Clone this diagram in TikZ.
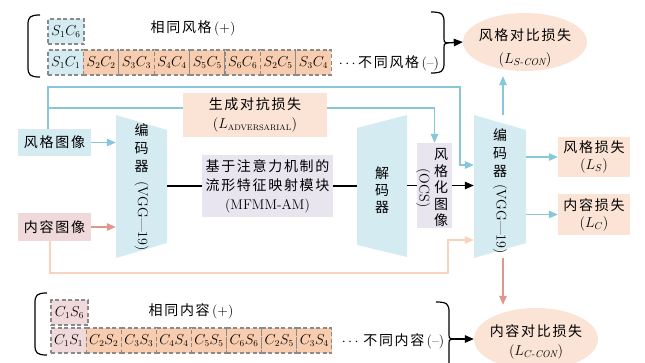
\documentclass[tikz,border=0pt]{standalone}
\usepackage{amsmath}
\usepackage{fontspec}
\newfontfamily\cjk[LetterSpace=12]{Noto Sans CJK SC}
\usetikzlibrary{arrows.meta,shapes.geometric}
\definecolor{cblue}{HTML}{D5EBF2}
\definecolor{cpeach}{HTML}{FBE4D5}
\definecolor{corange}{HTML}{F8CDAF}
\definecolor{cpink}{HTML}{EFD9DA}
\definecolor{clav}{HTML}{E8E5EF}
\definecolor{lblue}{HTML}{86C7D9}
\definecolor{lsalmon}{HTML}{DF968E}
\definecolor{lpeach}{HTML}{F9D3BB}
\definecolor{dgray}{HTML}{8A8A8A}
\begin{document}
\begin{tikzpicture}[x=1pt,y=-1pt,
  every node/.style={inner sep=0pt, font=\fontsize{14}{17}\selectfont},
  pair/.style={draw=dgray, dash pattern=on 4pt off 2.5pt, line width=1.2pt, minimum height=25pt, font=\fontsize{13.5}{13.5}\selectfont},
  conn/.style={line width=1.3pt},
  tip/.style={-{Triangle[length=9pt,width=7.5pt]}},
  brc/.style={line width=1.2pt, black},
]
\useasboundingbox (0,0) rectangle (645,362);
\clip (0,0) rectangle (645,362);

% ---------- top contrast group ----------
\node[pair, fill=cblue, minimum width=36pt] (ts) at (66,31.5) {$S_1C_6$};
\node (tsame) at (193,28) {{\cjk 相同风格}\,(+)};
\node[pair, fill=cblue, minimum width=35.4pt] (t0) at (65.7,62.5) {$S_1C_1$};
\foreach \a/\b [count=\i from 1] in {2/2,3/3,4/4,5/5,6/6,2/5,3/4}{
  \node[pair, fill=corange, minimum width=35.4pt] (t\i) at (65.7+35.4*\i,62.5) {$S_{\a}C_{\b}$};
}
\node (tdiff) at (389,63) {$\cdots${\cjk 不同风格}\,(--)};
\draw[brc] (40,15) .. controls (30,15) and (28,17) .. (28,25) -- (28,67) .. controls (28,75) and (30,77) .. (40,77);
\draw[brc] (431,12) .. controls (442,12) and (444,14) .. (444,22) -- (444,39) .. controls (444,42) .. (447,43) .. controls (444,44) .. (444,47) -- (444,63) .. controls (444,71) and (442,73) .. (431,73);
\coordinate (rbt) at (446,43);

\node[ellipse, fill=cpeach, minimum width=124pt, minimum height=58pt] (sell) at (525,42) {};
\node[align=center] (selltxt) at (525,48) {{\cjk 风格对比损失}\\[6pt]$(L_{S\text{-}\mathit{CON}})$};
\draw[conn, tip] (rbt) -- (sell.west);

% ---------- bottom contrast group ----------
\node[pair, fill=cpink, minimum width=37pt] (bs) at (69.5,312.5) {$C_1S_6$};
\node (bsame) at (191,311) {{\cjk 相同内容}\,(+)};
\node[pair, fill=cpink, minimum width=35.1pt] (b0) at (68.6,340.5) {$C_1S_1$};
\foreach \a/\b [count=\i from 1] in {2/2,3/3,4/4,5/5,6/6,2/5,3/4}{
  \node[pair, fill=corange, minimum width=35.1pt] (b\i) at (68.6+35.1*\i,340.5) {$C_{\a}S_{\b}$};
}
\node (bdiff) at (393,341) {$\cdots$\,{\cjk 不同内容}\,(--)};
\draw[brc] (47,293) .. controls (37,293) and (35,295) .. (35,303) -- (35,345) .. controls (35,353) and (37,355) .. (47,355);
\draw[brc] (436,302) .. controls (447,302) and (449,304) .. (449,312) -- (449,335) .. controls (449,338) .. (452,339) .. controls (449,340) .. (449,343) -- (449,366) .. controls (449,374) and (447,376) .. (436,376);
\coordinate (rbb) at (451,339);

\node[ellipse, fill=cpeach, minimum width=124pt, minimum height=62pt] (cell) at (536,339) {};
\node[align=center] (celltxt) at (536,342) {{\cjk 内容对比损失}\\[2pt]$(L_{C\text{-}\mathit{CON}})$};
\draw[conn, tip] (rbb) -- (cell.west);

% ---------- main pipeline ----------
\node[fill=cblue, minimum width=73pt, minimum height=27pt] (sty) at (54.5,142.5) {\cjk 风格图像};
\node[fill=cpink, minimum width=73pt, minimum height=28pt] (cont) at (54.5,227) {\cjk 内容图像};

% encoder 1
\fill[cblue] (116,115) -- (167,130) -- (167,243) -- (116,258) -- cycle;
\node[minimum width=51pt, minimum height=143pt] (enc1) at (141.5,186.5) {};
\node[align=center, font=\fontsize{14}{18}\selectfont] (enc1a) at (141.5,148) {\cjk 编\\\cjk 码\\\cjk 器};
\node[rotate=-90] (enc1b) at (141.5,216) {(VGG---19)};

% MFMM
\node[fill=clav, minimum width=131pt, minimum height=62pt, align=center, font=\fontsize{14}{19}\selectfont] (mfmm) at (267.5,186) {{\cjk 基于注意力机制的}\\{\cjk 流形特征映射模块}\\(MFMM-AM)};

% decoder
\fill[cblue] (357,128) -- (407,115) -- (407,257) -- (357,245) -- cycle;
\node[minimum width=50pt, minimum height=142pt] (dec) at (382,186.5) {};
\node[align=center, font=\fontsize{14}{17}\selectfont] (dectxt) at (382,190) {\cjk 解\\\cjk 码\\\cjk 器};

% stylised image
\node[fill=clav, minimum width=35pt, minimum height=85pt] (ocs) at (434.5,185.5) {};
\node[align=center, font=\fontsize{14}{16.5}\selectfont] (ocsa) at (441,188) {\cjk 风\\\cjk 格\\\cjk 化\\\cjk 图\\\cjk 像};
\node[rotate=-90] (ocsb) at (423,188) {(OCS)};

% encoder 2
\fill[cblue] (474,115) -- (526,130) -- (526,243) -- (474,258) -- cycle;
\node[minimum width=52pt, minimum height=143pt] (enc2) at (500,186.5) {};
\node[align=center, font=\fontsize{14}{18}\selectfont] (enc2a) at (500,153) {\cjk 编\\\cjk 码\\\cjk 器};
\node[rotate=-90] (enc2b) at (500,219) {(VGG---19)};

% adversarial loss
\node[fill=cpeach, minimum width=144pt, minimum height=44pt, align=center] (adv) at (255,115) {{\cjk 生成对抗损失}\\[2pt]$(L_{\text{\fontsize{8}{8}\selectfont ADVERSARIAL}})$};

% losses
\node[fill=cpeach, minimum width=72pt, minimum height=40pt, align=center] (sloss) at (594,157) {{\cjk 风格损失}\\$(L_S)$};
\node[fill=cpeach, minimum width=72pt, minimum height=41pt, align=center] (closs) at (594,214.5) {{\cjk 内容损失}\\$(L_C)$};

% ---------- connectors ----------
\coordinate (ja) at (48,87);
\coordinate (jb) at (48,108);
\coordinate (ca) at (460,165);
\coordinate (jc) at (50,273);
\coordinate (cc) at (448,240);

\draw[conn, lblue, tip] (sty.east) -- (sty.east -| enc1.west);
\draw[conn, lsalmon, tip] (cont.east) -- (cont.east -| enc1.west);
\draw[conn, lblue, tip] (sty.north -| ja) -- (ja) -| (ca) -- (ca -| enc2.west);
\draw[conn, lblue] (jb) -- (jb -| adv.west);
\draw[conn, lblue, tip] (jb -| adv.east) -| (ocs.north);
\draw[conn, lpeach, tip] (cont.south -| jc) -- (jc) -| (cc) -- (cc -| enc2.west);

\draw[conn, black] (enc1.east |- mfmm.west) -- (mfmm.west);
\draw[conn, black] (mfmm.east) -- (mfmm.east -| dec.west);
\draw[conn, black] (dec.east |- ocs.west) -- (ocs.west);
\draw[conn, black, tip] (ocs.east) -- (ocs.east -| enc2.west);

\draw[conn, lblue, tip, shorten >=5pt] ([xshift=3pt]enc2.north) -- ([xshift=3pt]enc2.north |- sell.south);
\draw[conn, lblue, tip] (sloss.west -| enc2.east) -- (sloss.west);
\draw[conn, lblue, tip] (closs.west -| enc2.east) -- (closs.west);
\draw[conn, lsalmon, tip, shorten >=3pt] ([xshift=3pt]enc2.south) -- ([xshift=3pt]enc2.south |- cell.north);
\end{tikzpicture}
\end{document}
